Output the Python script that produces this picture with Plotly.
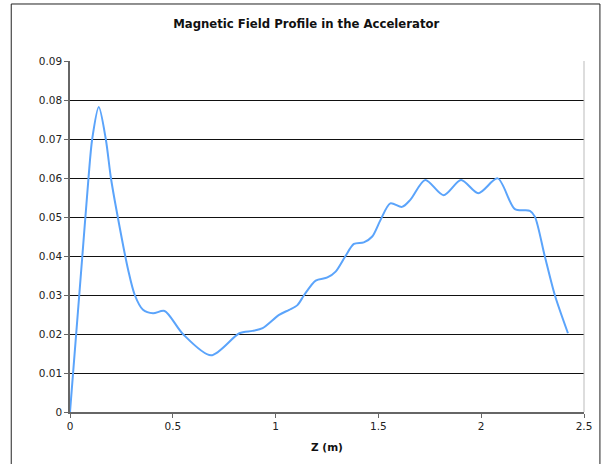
import plotly.graph_objects as go

# Axial position along the accelerator (m) and field strength (T)
z_m = [0, 0.06, 0.09, 0.108, 0.14, 0.174, 0.199, 0.226, 0.283, 0.315, 0.355,
       0.404, 0.46, 0.549, 0.686, 0.824, 0.888, 0.937, 1.017, 1.066, 1.106,
       1.139, 1.195, 1.252, 1.292, 1.34, 1.381, 1.429, 1.47, 1.51, 1.558,
       1.615, 1.655, 1.728, 1.817, 1.902, 1.986, 2.08, 2.164, 2.237, 2.261,
       2.309, 2.358, 2.422]
field = [0, 0.040, 0.060, 0.070, 0.0782, 0.070, 0.060, 0.0518, 0.0364, 0.030,
         0.0262, 0.0253, 0.0259, 0.020, 0.01453, 0.0202, 0.0208, 0.0215,
         0.0249, 0.0262, 0.0274, 0.030, 0.0337, 0.0345, 0.036, 0.040, 0.0431,
         0.0435, 0.045, 0.0492, 0.0535, 0.0526, 0.0544, 0.0595, 0.0556,
         0.0595, 0.0561, 0.0599, 0.052, 0.0516, 0.0501, 0.040, 0.030, 0.0202]

x_ticks = [0, 0.5, 1, 1.5, 2, 2.5]
y_ticks = [0, 0.01, 0.02, 0.03, 0.04, 0.05, 0.06, 0.07, 0.08, 0.09]

FONT = "DejaVu Sans, Verdana, sans-serif"

fig = go.Figure()
fig.add_trace(go.Scatter(
    x=z_m, y=field, mode="lines",
    line=dict(color="#5ba4fb", width=2, shape="spline", smoothing=0.8),
    showlegend=False, hoverinfo="x+y",
))

fig.update_layout(
    width=604, height=464,
    margin=dict(l=70, r=18, t=61, b=52),
    paper_bgcolor="white", plot_bgcolor="white",
    font=dict(family=FONT, size=11, color="#222"),
    title=dict(text="<b>Magnetic Field Profile in the Accelerator</b>",
               x=0.507, xanchor="center", y=0.948, yanchor="middle",
               font=dict(family=FONT, size=11.7, color="#111")),
    xaxis=dict(
        range=[0, 2.5], tickvals=x_ticks, ticktext=[f"{v:g}" for v in x_ticks],
        showgrid=False, zeroline=False,
        showline=True, linecolor="#666", linewidth=1.5,
        ticks="outside", ticklen=4, tickcolor="#666",
        tickfont=dict(size=10.5),
        title=dict(text="<b>Z (m)</b>", standoff=12,
                   font=dict(family=FONT, size=10.5, color="#111")),
    ),
    yaxis=dict(
        range=[0, 0.09], tickvals=y_ticks, ticktext=[f"{v:g}" for v in y_ticks],
        showgrid=True, gridcolor="#111", gridwidth=1, zeroline=False,
        showline=True, linecolor="#666", linewidth=1.5,
        ticks="outside", ticklen=4, tickcolor="#666",
        tickfont=dict(size=10.5),
    ),
    shapes=[
        # right edge of the plot area
        dict(type="line", xref="paper", yref="paper", x0=1, x1=1, y0=0, y1=1,
             line=dict(color="#bbb", width=1)),
        # chart area frame
        dict(type="rect", xref="paper", yref="paper",
             x0=-0.1143, x1=1.031, y0=-0.2, y1=1.1624,
             line=dict(color="#222", width=1), layer="below"),
    ],
)

fig.write_html("out.html")
